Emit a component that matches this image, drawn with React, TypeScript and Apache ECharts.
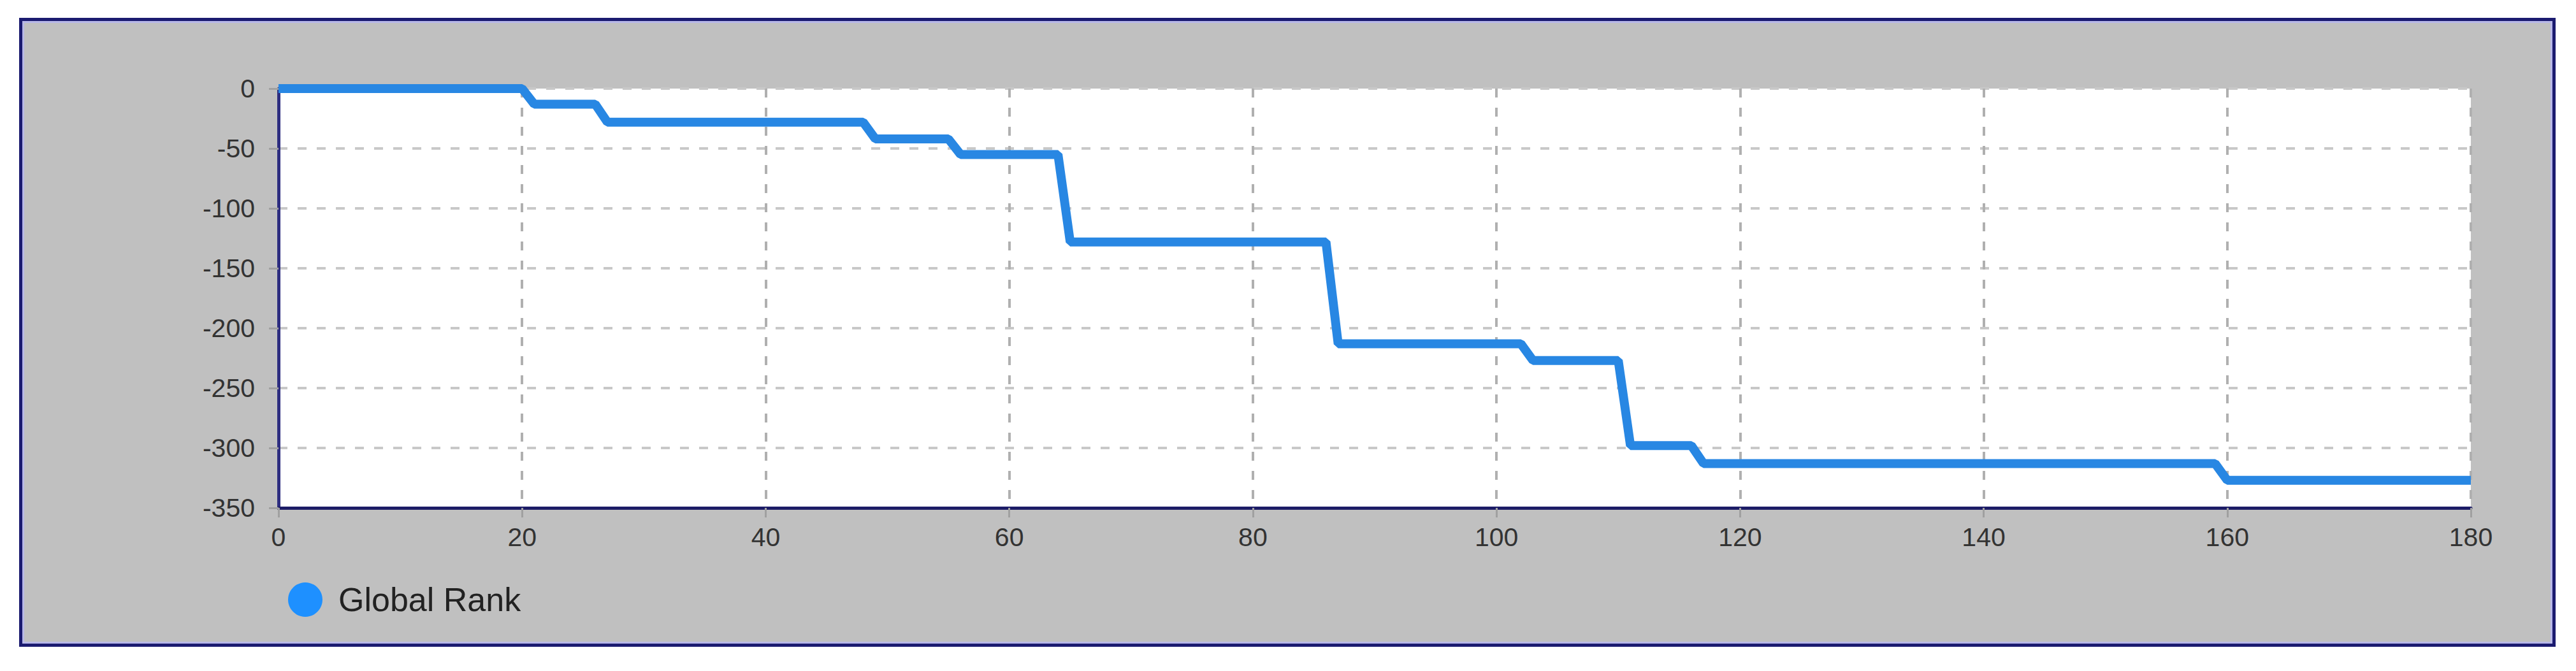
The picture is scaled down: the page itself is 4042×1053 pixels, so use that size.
import React, { useEffect, useRef } from "react";
import * as echarts from "echarts";

// Data (step transitions)
const xValues = [0, 20, 21, 26, 27, 48, 49, 55, 56, 64, 65, 86, 87, 102, 103, 110, 111, 116, 117, 159, 160, 180];
const rankValues = [0, 0, -13, -13, -28, -28, -42, -42, -55, -55, -128, -128, -213, -213, -227, -227, -298, -298, -313, -313, -327, -327];
const seriesName = "Global Rank";
const xMin = 0;
const xMax = 180;
const xInterval = 20;
const yMin = -350;
const yMax = 0;
const yInterval = 50;

const FONT = "'Liberation Sans', Arial, sans-serif";

export default function App() {
  const ref = useRef<HTMLDivElement>(null);

  useEffect(() => {
    if (!ref.current) return;
    const chart = echarts.init(ref.current, null, { renderer: "svg" });
    const data = xValues.map((x, i) => [x, rankValues[i]]);
    chart.setOption({
      animation: false,
      backgroundColor: "transparent",
      textStyle: { fontFamily: FONT },
      grid: {
        left: 437,
        right: 165,
        top: 139,
        bottom: 256,
        show: true,
        backgroundColor: "#ffffff",
        borderWidth: 0,
        containLabel: false,
      },
      legend: {
        left: 452,
        top: 914,
        padding: 0,
        itemWidth: 62,
        itemHeight: 54,
        icon: "path://M50,0A50,50,0,1,1,49.99,0Z",
        data: [{ name: seriesName, itemStyle: { color: "#1e90ff" } }],
        textStyle: {
          fontSize: 52,
          color: "#222222",
          fontFamily: FONT,
          padding: [0, 0, 0, 16],
        },
      },
      xAxis: {
        type: "value",
        min: xMin,
        max: xMax,
        interval: xInterval,
        axisLine: { show: true, onZero: false, lineStyle: { color: "#1c1c66", width: 5 } },
        axisTick: { show: true, length: 15, lineStyle: { color: "#a0a0a0", width: 3 } },
        axisLabel: { fontSize: 41, color: "#333333", margin: 25, fontFamily: FONT },
        splitLine: {
          show: true,
          lineStyle: { color: "#b0b0b0", width: 4, type: [14, 16] },
        },
      },
      yAxis: {
        type: "value",
        min: yMin,
        max: yMax,
        interval: yInterval,
        axisLine: { show: true, onZero: false, lineStyle: { color: "#2e2e80", width: 5 } },
        axisTick: { show: true, length: 15, lineStyle: { color: "#a0a0a0", width: 3 } },
        axisLabel: { fontSize: 41, color: "#333333", margin: 37, fontFamily: FONT },
        splitLine: {
          show: true,
          lineStyle: { color: "#c8c8c8", width: 4, type: [14, 16] },
        },
      },
      series: [
        {
          name: seriesName,
          type: "line",
          data,
          symbol: "none",
          z: 5,
          lineStyle: { color: "#2887e3", width: 14 },
          itemStyle: { color: "#1e90ff" },
        },
      ],
    });
    return () => chart.dispose();
  }, []);

  return (
    <div style={{ position: "absolute", left: 0, top: 0, width: 4042, height: 1053, background: "#ffffff" }}>
      <div
        style={{
          position: "absolute",
          left: 30,
          top: 28,
          width: 3980,
          height: 987,
          boxSizing: "border-box",
          border: "5px solid #1b1b70",
          boxShadow: "inset 0 0 0 3px #b8b8e8",
          background: "#c0c0c0",
        }}
      />
      <div ref={ref} style={{ position: "absolute", left: 0, top: 0, width: 4042, height: 1053 }} />
    </div>
  );
}
